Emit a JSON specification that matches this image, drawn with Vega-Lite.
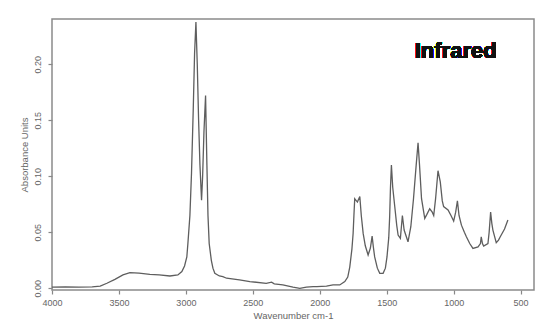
{
  "$schema": "https://vega.github.io/schema/vega-lite/v6.json",
  "width": 482,
  "height": 271,
  "autosize": {"type": "none"},
  "padding": {"left": 52, "top": 19, "right": 5, "bottom": 33},
  "background": "white",
  "config": {
    "view": {"stroke": "#8a8a8a", "strokeWidth": 1.5},
    "axis": {
      "labelFont": "Liberation Sans", "labelFontSize": 9, "labelColor": "#666", "labelFlush": false,
      "titleFont": "Liberation Sans", "titleFontSize": 9.5, "titleFontWeight": "normal", "titleColor": "#666",
      "grid": false, "domain": false, "tickColor": "#888", "tickSize": 4, "tickWidth": 1.2
    }
  },
  "data": {"values": [
    {"wn": 4000, "a": 0.001}, {"wn": 3900, "a": 0.0012}, {"wn": 3800, "a": 0.001}, {"wn": 3700, "a": 0.0012},
    {"wn": 3640, "a": 0.002}, {"wn": 3590, "a": 0.0045}, {"wn": 3530, "a": 0.008}, {"wn": 3470, "a": 0.012},
    {"wn": 3418, "a": 0.014}, {"wn": 3350, "a": 0.0135}, {"wn": 3269, "a": 0.0125}, {"wn": 3200, "a": 0.012},
    {"wn": 3119, "a": 0.011}, {"wn": 3060, "a": 0.012}, {"wn": 3030, "a": 0.015}, {"wn": 3010, "a": 0.02},
    {"wn": 2993, "a": 0.028}, {"wn": 2985, "a": 0.04}, {"wn": 2970, "a": 0.065}, {"wn": 2958, "a": 0.103},
    {"wn": 2945, "a": 0.16}, {"wn": 2935, "a": 0.21}, {"wn": 2925, "a": 0.2376}, {"wn": 2915, "a": 0.2},
    {"wn": 2905, "a": 0.15}, {"wn": 2895, "a": 0.11}, {"wn": 2883, "a": 0.0787}, {"wn": 2875, "a": 0.1},
    {"wn": 2865, "a": 0.14}, {"wn": 2853, "a": 0.172}, {"wn": 2843, "a": 0.11}, {"wn": 2835, "a": 0.065},
    {"wn": 2826, "a": 0.04}, {"wn": 2810, "a": 0.025}, {"wn": 2798, "a": 0.018}, {"wn": 2784, "a": 0.0134},
    {"wn": 2750, "a": 0.011}, {"wn": 2724, "a": 0.0104}, {"wn": 2696, "a": 0.009}, {"wn": 2600, "a": 0.0075},
    {"wn": 2522, "a": 0.006}, {"wn": 2400, "a": 0.0045}, {"wn": 2360, "a": 0.0055}, {"wn": 2340, "a": 0.004},
    {"wn": 2276, "a": 0.003}, {"wn": 2200, "a": 0.001}, {"wn": 2149, "a": 0.0}, {"wn": 2100, "a": 0.001},
    {"wn": 2050, "a": 0.0015}, {"wn": 2022, "a": 0.0015}, {"wn": 1950, "a": 0.002}, {"wn": 1901, "a": 0.003},
    {"wn": 1851, "a": 0.003}, {"wn": 1813, "a": 0.006}, {"wn": 1791, "a": 0.01}, {"wn": 1776, "a": 0.019},
    {"wn": 1760, "a": 0.035}, {"wn": 1751, "a": 0.049}, {"wn": 1745, "a": 0.065}, {"wn": 1739, "a": 0.08},
    {"wn": 1719, "a": 0.077}, {"wn": 1701, "a": 0.082}, {"wn": 1690, "a": 0.065}, {"wn": 1676, "a": 0.049},
    {"wn": 1660, "a": 0.038}, {"wn": 1639, "a": 0.0297}, {"wn": 1622, "a": 0.036}, {"wn": 1609, "a": 0.0466},
    {"wn": 1600, "a": 0.037}, {"wn": 1590, "a": 0.028}, {"wn": 1570, "a": 0.018}, {"wn": 1552, "a": 0.0134},
    {"wn": 1527, "a": 0.0134}, {"wn": 1510, "a": 0.018}, {"wn": 1498, "a": 0.028}, {"wn": 1485, "a": 0.045},
    {"wn": 1478, "a": 0.064}, {"wn": 1472, "a": 0.09}, {"wn": 1465, "a": 0.11}, {"wn": 1455, "a": 0.09},
    {"wn": 1440, "a": 0.073}, {"wn": 1425, "a": 0.056}, {"wn": 1415, "a": 0.0475}, {"wn": 1398, "a": 0.0445},
    {"wn": 1383, "a": 0.065}, {"wn": 1370, "a": 0.052}, {"wn": 1341, "a": 0.0415}, {"wn": 1320, "a": 0.055},
    {"wn": 1300, "a": 0.08}, {"wn": 1280, "a": 0.11}, {"wn": 1266, "a": 0.13}, {"wn": 1255, "a": 0.11},
    {"wn": 1240, "a": 0.08}, {"wn": 1216, "a": 0.0624}, {"wn": 1200, "a": 0.066}, {"wn": 1179, "a": 0.071},
    {"wn": 1160, "a": 0.068}, {"wn": 1149, "a": 0.065}, {"wn": 1135, "a": 0.08}, {"wn": 1117, "a": 0.105},
    {"wn": 1100, "a": 0.095}, {"wn": 1085, "a": 0.078}, {"wn": 1075, "a": 0.073}, {"wn": 1042, "a": 0.07},
    {"wn": 1020, "a": 0.065}, {"wn": 1000, "a": 0.06}, {"wn": 985, "a": 0.068}, {"wn": 972, "a": 0.078},
    {"wn": 960, "a": 0.065}, {"wn": 942, "a": 0.0564}, {"wn": 920, "a": 0.05}, {"wn": 905, "a": 0.046},
    {"wn": 880, "a": 0.04}, {"wn": 856, "a": 0.0356}, {"wn": 818, "a": 0.037}, {"wn": 800, "a": 0.04},
    {"wn": 794, "a": 0.046}, {"wn": 785, "a": 0.04}, {"wn": 776, "a": 0.0377}, {"wn": 744, "a": 0.04},
    {"wn": 735, "a": 0.05}, {"wn": 724, "a": 0.068}, {"wn": 715, "a": 0.058}, {"wn": 707, "a": 0.052},
    {"wn": 682, "a": 0.0407}, {"wn": 665, "a": 0.043}, {"wn": 652, "a": 0.046}, {"wn": 620, "a": 0.053},
    {"wn": 595, "a": 0.061}
  ]},
  "layer": [
    {
      "mark": {"type": "line", "color": "#5e5e5e", "strokeWidth": 1.3, "interpolate": "linear"},
      "encoding": {
        "x": {"field": "wn", "type": "quantitative", "title": "Wavenumber cm-1",
              "scale": {"domain": [4000, 400], "nice": false, "zero": false},
              "axis": {"values": [4000, 3500, 3000, 2500, 2000, 1500, 1000, 500], "labelPadding": 4, "titlePadding": 3, "format": "d"}},
        "y": {"field": "a", "type": "quantitative", "title": "Absorbance Units",
              "scale": {"domain": [-0.0015, 0.2404], "nice": false, "zero": false},
              "axis": {"values": [0, 0.05, 0.1, 0.15, 0.2], "format": ".2f", "labelAngle": -90, "labelAlign": "center", "labelBaseline": "bottom", "labelPadding": 6, "titlePadding": 4}}
      }
    },
    {
      "mark": {"type": "text", "text": "Infrared", "font": "Liberation Sans", "fontWeight": "bold", "fontSize": 22, "color": "#111", "align": "center", "baseline": "middle"},
      "encoding": {
        "x": {"datum": 985, "type": "quantitative"},
        "y": {"datum": 0.2115, "type": "quantitative"}
      }
    }
  ]
}
